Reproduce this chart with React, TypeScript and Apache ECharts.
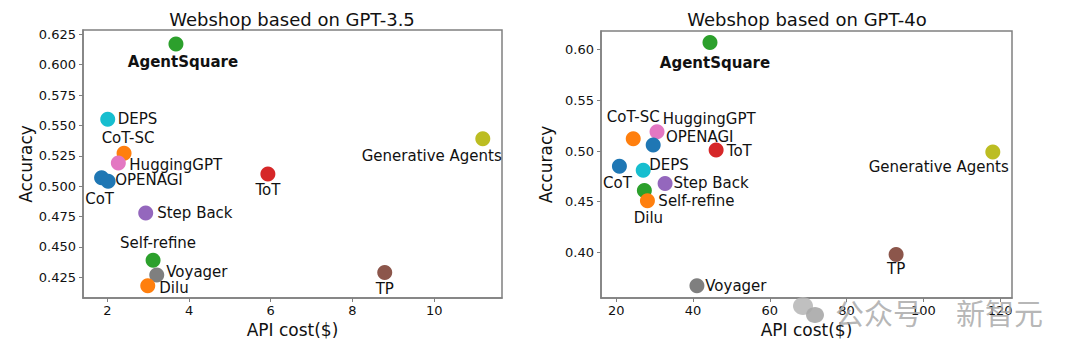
import React, { useEffect, useRef } from "react";
import * as echarts from "echarts";

// ---------- data ----------
const methods = [
  "AgentSquare", "DEPS", "CoT-SC", "HuggingGPT", "CoT", "OPENAGI", "ToT",
  "Generative Agents", "Step Back", "Self-refine", "Voyager", "Dilu", "TP",
];
const cost35 = [3.68, 2.01, 2.41, 2.27, 1.86, 2.02, 5.93, 11.19, 2.94, 3.12, 3.21, 2.99, 8.79];
const acc35 = [0.617, 0.555, 0.527, 0.519, 0.507, 0.504, 0.510, 0.539, 0.478, 0.439, 0.427, 0.418, 0.429];
const cost4o = [44.4, 27.0, 24.4, 30.6, 20.8, 29.6, 46.0, 118.1, 32.7, 27.3, 41.0, 28.1, 92.9];
const acc4o = [0.607, 0.481, 0.512, 0.519, 0.485, 0.506, 0.501, 0.499, 0.468, 0.461, 0.367, 0.451, 0.398];

const xTicks35 = [2, 4, 6, 8, 10];
const yTicks35 = [0.425, 0.45, 0.475, 0.5, 0.525, 0.55, 0.575, 0.6, 0.625];
const xTicks4o = [20, 40, 60, 80, 100, 120];
const yTicks4o = [0.4, 0.45, 0.5, 0.55, 0.6];

const titles = ["Webshop based on GPT-3.5", "Webshop based on GPT-4o"];
const xName = "API cost($)";
const yName = "Accuracy";
const watermark = ["公众号", "新智元"];

// ---------- styles ----------
const C = {
  blue: "#1f77b4", orange: "#ff7f0e", green: "#2ca02c", red: "#d62728",
  purple: "#9467bd", brown: "#8c564b", pink: "#e377c2", gray: "#7f7f7f",
  olive: "#bcbd22", cyan: "#17becf",
};
const methodColor: Record<string, string> = {
  AgentSquare: C.green, DEPS: C.cyan, "CoT-SC": C.orange, HuggingGPT: C.pink,
  OPENAGI: C.blue, CoT: C.blue, ToT: C.red, "Generative Agents": C.olive,
  "Step Back": C.purple, "Self-refine": C.green, Voyager: C.gray, Dilu: C.orange, TP: C.brown,
};
type LP = [number, number, "left" | "center" | "right"];
const labelPos35: Record<string, LP> = {
  AgentSquare: [7, 18, "center"], DEPS: [10, 0, "left"], "CoT-SC": [4, -15, "center"],
  HuggingGPT: [11, 1.5, "left"], OPENAGI: [7, -1, "left"], CoT: [-2, 21, "center"],
  ToT: [0, 16, "center"], "Generative Agents": [19, 17.5, "right"], "Step Back": [11.5, 0, "left"],
  "Self-refine": [5, -17, "center"], Voyager: [9.5, -3.3, "left"], Dilu: [11.5, 2.3, "left"],
  TP: [0, 17, "center"],
};
const labelPos4o: Record<string, LP> = {
  AgentSquare: [5, 20, "center"], DEPS: [6, -5, "left"], "CoT-SC": [0, -22, "center"],
  HuggingGPT: [5.7, -12.3, "left"], OPENAGI: [12.7, -8.3, "left"], CoT: [-2, 16.6, "center"],
  ToT: [10.7, 1, "left"], "Generative Agents": [16, 15, "right"], "Step Back": [8.3, 0, "left"],
  "Self-refine": [14, 10, "left"], Voyager: [8.3, 0, "left"], Dilu: [1, 17.7, "center"],
  TP: [0, 15, "center"],
};

const FONT = "DejaVu Sans";
const SPINE = "#808080";
const INK = "#111";

function makeData(xs: number[], ys: number[], lp: Record<string, LP>) {
  return methods.map((m, i) => {
    const [dx, dy, align] = lp[m];
    return {
      name: m,
      value: [xs[i], ys[i]],
      itemStyle: { color: methodColor[m], opacity: 1 },
      label: {
        show: true,
        position: "inside",
        offset: [dx, dy],
        align,
        verticalAlign: "middle",
        formatter: m,
        color: INK,
        opacity: 1,
        fontFamily: FONT,
        fontSize: 15,
        fontWeight: m === "AgentSquare" ? "bold" : "normal",
        textBorderWidth: 0,
      },
    };
  });
}

function xAxis(gridIndex: number, min: number, max: number, ticks: number[]) {
  return {
    type: "value", gridIndex, min, max,
    name: xName, nameLocation: "middle", nameGap: 22,
    nameTextStyle: { fontFamily: FONT, fontSize: 17, color: INK },
    axisLine: { show: true, lineStyle: { color: SPINE, width: 1.5 } },
    axisTick: { show: true, length: 4, customValues: ticks, lineStyle: { color: SPINE, width: 1 } },
    axisLabel: { customValues: ticks, margin: 6, fontFamily: FONT, fontSize: 13, color: INK },
    splitLine: { show: false },
  };
}
function yAxis(gridIndex: number, min: number, max: number, ticks: number[], digits: number) {
  return {
    type: "value", gridIndex, min, max,
    name: yName, nameLocation: "middle", nameGap: 47,
    nameTextStyle: { fontFamily: FONT, fontSize: 17, color: INK },
    axisLine: { show: true, lineStyle: { color: SPINE, width: 1.5 } },
    axisTick: { show: true, length: 4, customValues: ticks, lineStyle: { color: SPINE, width: 1 } },
    axisLabel: {
      customValues: ticks, margin: 7, fontFamily: FONT, fontSize: 13, color: INK,
      formatter: (v: number) => v.toFixed(digits),
    },
    splitLine: { show: false },
  };
}

export default function App() {
  const ref = useRef<HTMLDivElement>(null);
  useEffect(() => {
    if (!ref.current) return;
    const chart = echarts.init(ref.current, undefined, { renderer: "svg" });
    chart.setOption({
      animation: false,
      backgroundColor: "#fff",
      grid: [
        { left: 83, top: 30, width: 419, height: 268, show: true, borderColor: SPINE, borderWidth: 1.5, backgroundColor: "transparent" },
        { left: 601, top: 31, width: 411, height: 267, show: true, borderColor: SPINE, borderWidth: 1.5, backgroundColor: "transparent" },
      ],
      xAxis: [xAxis(0, 1.405, 11.66, xTicks35), xAxis(1, 16.0, 123.1, xTicks4o)],
      yAxis: [yAxis(0, 0.408, 0.6285, yTicks35, 3), yAxis(1, 0.355, 0.6184, yTicks4o, 2)],
      series: [
        {
          type: "scatter", xAxisIndex: 0, yAxisIndex: 0, symbolSize: 15,
          itemStyle: { opacity: 1 },
          emphasis: { disabled: true },
          data: makeData(cost35, acc35, labelPos35),
        },
        {
          type: "scatter", xAxisIndex: 1, yAxisIndex: 1, symbolSize: 15,
          itemStyle: { opacity: 1 },
          emphasis: { disabled: true },
          data: makeData(cost4o, acc4o, labelPos4o),
        },
      ],
      graphic: [
        { type: "text", x: 292, y: 19, style: { text: titles[0], fontFamily: FONT, fontSize: 18, fill: INK, textAlign: "center", textVerticalAlign: "middle" } },
        { type: "text", x: 807, y: 19, style: { text: titles[1], fontFamily: FONT, fontSize: 18, fill: INK, textAlign: "center", textVerticalAlign: "middle" } },
        // watermark
        { type: "ellipse", shape: { cx: 803, cy: 306, rx: 10, ry: 9 }, style: { fill: "#b5b5b5", opacity: 0.85 }, z: 100 },
        { type: "ellipse", shape: { cx: 815, cy: 315, rx: 9, ry: 8 }, style: { fill: "#a8a8a8", opacity: 0.9 }, z: 101 },
        { type: "text", x: 835, y: 312, z: 100, style: { text: watermark[0], fontFamily: "Noto Sans CJK SC", fontSize: 29, fill: "#aaaaaa", opacity: 0.85, textVerticalAlign: "middle" } },
        { type: "text", x: 956, y: 312, z: 100, style: { text: watermark[1], fontFamily: "Noto Sans CJK SC", fontSize: 29, fill: "#aaaaaa", opacity: 0.85, textVerticalAlign: "middle" } },
      ],
    });
    return () => chart.dispose();
  }, []);
  return (
    <div
      ref={ref}
      style={{ position: "fixed", left: 0, top: 0, width: 1080, height: 357, background: "#fff" }}
    />
  );
}
